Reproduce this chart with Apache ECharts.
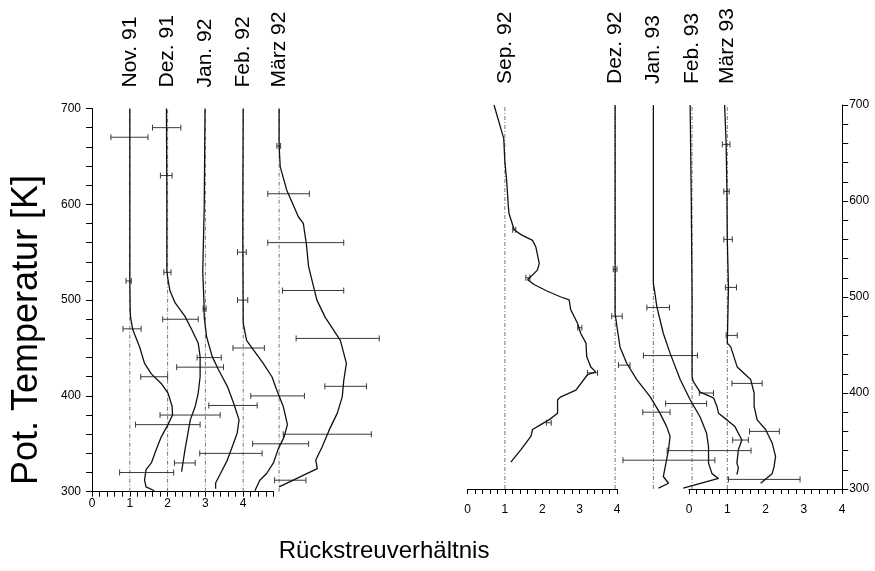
<!DOCTYPE html>
<html><head><meta charset="utf-8">
<script src="https://cdn.jsdelivr.net/npm/echarts@6/dist/echarts.min.js"></script>
<style>html,body{margin:0;padding:0;background:#fff}#c{width:875px;height:571px}</style>
</head><body><div id="c"></div>
<script>
// Profiles: [potential temperature K, backscatter ratio R]
const nov91 = [[700,1.00],[600,1.00],[520,1.00],[490,1.01],[482,1.02],[469,1.08],[451,1.26],[434,1.39],[423,1.57],[413,1.83],[403,2.01],[389,2.12],[380,2.13],[370,2.01],[357,1.83],[344,1.70],[330,1.57],[323,1.43],[312,1.39],[305,1.43],[301,1.65]];
const dez91 = [[700,0.97],[600,0.98],[531,0.98],[524,1.00],[510,1.06],[497,1.20],[483,1.46],[469,1.64],[455,1.81],[441,1.86],[420,1.86],[403,1.81],[389,1.73],[375,1.60],[357,1.52],[344,1.46],[331,1.41],[321,1.37]];
const jan92 = [[700,0.99],[600,0.97],[530,0.93],[500,0.96],[482,0.97],[462,1.03],[441,1.18],[427,1.35],[410,1.58],[392,1.75],[375,1.89],[361,1.84],[347,1.71],[333,1.58],[319,1.40],[309,1.27],[303,1.27]];
const feb92 = [[700,1.00],[600,0.99],[560,0.99],[476,1.00],[458,1.09],[448,1.27],[434,1.53],[420,1.76],[406,1.89],[389,2.06],[370,2.17],[357,2.08],[345,1.93],[330,1.80],[319,1.62],[312,1.44],[301,1.31]];
const mar92 = [[700,1.00],[661,1.00],[639,1.03],[615,1.20],[587,1.51],[580,1.64],[559,1.72],[535,1.78],[500,2.00],[482,2.22],[458,2.62],[434,2.78],[416,2.71],[399,2.67],[382,2.54],[364,2.32],[347,2.14],[333,1.97],[324,2.01],[305,1.00]];
const sep92 = [[700,0.71],[665,0.97],[641,1.00],[620,1.05],[596,1.09],[587,1.11],[570,1.25],[565,1.43],[559,1.74],[552,1.83],[535,1.92],[528,1.87],[518,1.61],[513,1.78],[506,2.14],[500,2.50],[497,2.72],[487,2.76],[473,2.94],[462,3.03],[452,3.17],[438,3.19],[427,3.30],[422,3.43],[419,3.21],[403,2.90],[396,2.50],[393,2.41],[379,2.41],[372,2.18],[367,1.96],[362,1.74],[355,1.70],[341,1.43],[328,1.16]];
const dez92 = [[700,1.00],[600,1.00],[530,1.00],[483,1.00],[469,1.05],[448,1.13],[431,1.31],[414,1.58],[396,1.94],[379,2.20],[365,2.38],[355,2.47],[341,2.43],[323,2.34],[313,2.29],[306,2.43],[301,2.16]];
const jan93 = [[700,1.00],[600,1.00],[514,1.00],[504,1.04],[490,1.09],[462,1.26],[441,1.44],[414,1.70],[393,1.96],[375,2.22],[358,2.39],[344,2.44],[327,2.44],[316,2.53],[311,2.70],[301,1.78]];
const feb93 = [[700,0.95],[600,0.98],[500,1.00],[417,1.00],[412,1.03],[401,1.21],[395,1.56],[386,1.65],[379,1.69],[372,1.91],[365,2.12],[351,2.30],[341,2.21],[327,2.17],[322,2.21],[315,2.17]];
const mar93 = [[700,0.93],[659,0.97],[610,0.99],[560,1.00],[510,1.03],[452,1.00],[448,1.09],[427,1.26],[414,1.61],[400,1.70],[386,1.70],[372,1.78],[362,2.00],[348,2.17],[334,2.26],[323,2.22],[316,2.17],[306,1.87]];

// Error bars: [K, R low, R high]
const nov91Err = [[670,0.50,1.48],[520,0.90,1.04],[470,0.82,1.30],[420,1.29,2.00],[370,1.15,2.86],[320,0.73,2.16]];
const dez91Err = [[680,0.60,1.35],[630,0.81,1.12],[529,0.90,1.09],[480,0.87,1.81],[430,1.24,2.48],[380,0.80,2.39],[330,1.18,1.73]];
const jan92Err = [[491,0.94,1.02],[440,0.78,1.42],[390,1.09,2.37],[340,0.85,2.50]];
const feb92Err = [[550,0.85,1.08],[500,0.85,1.12],[450,0.73,1.56],[400,1.20,2.62],[350,1.25,2.73]];
const mar92Err = [[661,0.94,1.04],[611,0.70,1.80],[560,0.70,2.71],[510,1.09,2.71],[460,1.45,3.65],[410,2.21,3.31],[360,1.11,3.44],[312,0.88,1.71]];
const sep92Err = [[570,1.21,1.29],[520,1.56,1.67],[468,2.95,3.06],[421,3.21,3.48],[369,2.11,2.24]];
const dez92Err = [[529,0.95,1.05],[480,0.91,1.19],[429,1.09,1.40],[380,1.74,2.47],[330,1.21,3.67]];
const jan93Err = [[489,0.83,1.42],[439,0.74,2.15],[389,1.32,2.39],[340,1.36,3.55]];
const feb93Err = [[400,1.19,1.56],[351,2.06,2.47]];
const mar93Err = [[659,0.87,1.07],[610,0.91,1.05],[560,0.91,1.13],[510,0.95,1.24],[460,0.97,1.26],[410,1.12,1.91],[360,1.58,2.36],[310,1.03,2.90]];

const monthLabels = ['Nov. 91','Dez. 91','Jan. 92','Feb. 92','März 92','Sep. 92','Dez. 92','Jan. 93','Feb. 93','März 93'];
const baselines = [1, 2, 3, 4, 4.95, 1, 3.95, -0.93, 0.08, 1.0];
const panelAxis = [3, 3, 3, 3, 3, 4, 4, 5, 5, 5];
const xTickLabels = [0, 1, 2, 3, 4];
const yTickLabels = [300, 400, 500, 600, 700];
const yTitle = 'Pot. Temperatur [K]';
const xTitle = 'Rückstreuverhältnis';

const profileData = [nov91, dez91, jan92, feb92, mar92, sep92, dez92, jan93, feb93, mar93];
const errData = [nov91Err, dez91Err, jan92Err, feb92Err, mar92Err, sep92Err, dez92Err, jan93Err, feb93Err, mar93Err];

const FONT = '"Liberation Sans", Arial, Helvetica, sans-serif';
const xFmt = v => { const r = Math.round(v); return (Math.abs(v - r) < 1e-6 && xTickLabels.includes(r)) ? String(r) : ''; };
const yFmt = v => yTickLabels.includes(Math.round(v)) && Math.abs(v - Math.round(v)) < 1e-6 ? String(Math.round(v)) : '';

function xAxisCfg(gi, max, margin) {
  return {
    type: 'value', gridIndex: gi, min: 0, max: max, interval: 0.2,
    axisLine: { show: true, onZero: false, lineStyle: { color: '#000', width: 1 } },
    axisTick: { show: true, inside: false, length: 5, lineStyle: { color: '#000', width: 1 } },
    axisLabel: { show: true, formatter: xFmt, margin: margin, color: '#000', fontSize: 12, fontFamily: FONT },
    splitLine: { show: false }
  };
}
function yAxisCfg(gi, pos, show, margin) {
  return {
    type: 'value', gridIndex: gi, min: 300, max: 700, interval: 20, position: pos, show: show,
    axisLine: { show: true, onZero: false, lineStyle: { color: '#000', width: 1 } },
    axisTick: { show: true, inside: false, length: 6, lineStyle: { color: '#000', width: 1 } },
    axisLabel: { show: true, formatter: yFmt, margin: margin, color: '#000', fontSize: 12, fontFamily: FONT },
    splitLine: { show: false }
  };
}
function hiddenX(gi, min, max) { return { type: 'value', gridIndex: gi, min: min, max: max, show: false, splitLine: { show: false } }; }
function hiddenY(gi) { return { type: 'value', gridIndex: gi, min: 300, max: 700, show: false, splitLine: { show: false } }; }

const series = [];
profileData.forEach((prof, i) => {
  const b = baselines[i];
  const ai = panelAxis[i];
  series.push({
    type: 'line', xAxisIndex: ai, yAxisIndex: ai, silent: true,
    symbol: 'none', data: [[b, 300], [b, 700]],
    lineStyle: { color: '#777', width: 1, type: [4, 2, 1, 2] }, z: 1
  });
  series.push({
    type: 'line', xAxisIndex: ai, yAxisIndex: ai, silent: true,
    symbol: 'none', data: prof.map(([k, r]) => [b + r - 1, k]),
    lineStyle: { color: '#111', width: 1.3 }, z: 3
  });
  series.push({
    type: 'custom', xAxisIndex: ai, yAxisIndex: ai, silent: true, clip: false, z: 2,
    data: errData[i].map(([k, lo, hi]) => [b + lo - 1, b + hi - 1, k]),
    encode: { x: [0, 1], y: 2 },
    renderItem: (params, api) => {
      const p1 = api.coord([api.value(0), api.value(2)]);
      const p2 = api.coord([api.value(1), api.value(2)]);
      const h = 3;
      const st = { stroke: '#3a3a3a', lineWidth: 1 };
      return { type: 'group', children: [
        { type: 'line', shape: { x1: p1[0], y1: p1[1], x2: p2[0], y2: p2[1] }, style: st },
        { type: 'line', shape: { x1: p1[0], y1: p1[1] - h, x2: p1[0], y2: p1[1] + h }, style: st },
        { type: 'line', shape: { x1: p2[0], y1: p2[1] - h, x2: p2[0], y2: p2[1] + h }, style: st }
      ]};
    }
  });
  series.push({
    type: 'custom', xAxisIndex: ai, yAxisIndex: ai, silent: true, clip: false, z: 5,
    data: [[b, 700]],
    renderItem: (params, api) => {
      const p = api.coord([api.value(0), api.value(1)]);
      return { type: 'text', x: p[0], y: p[1] - 21, rotation: Math.PI / 2,
        style: { text: monthLabels[i], fill: '#000', font: '21px ' + FONT, align: 'left', verticalAlign: 'middle' } };
    }
  });
});

const chart = echarts.init(document.getElementById('c'), null, { renderer: 'canvas' });
chart.setOption({
  animation: false,
  backgroundColor: '#fff',
  grid: [
    { left: 92, top: 108.5, width: 181.4, height: 383.2 },
    { left: 467.5, top: 105, width: 149.5, height: 384 },
    { left: 689, top: 105, width: 153.2, height: 384 },
    { left: 92, top: 108.5, width: 302.4, height: 383.2 },
    { left: 467.5, top: 105, width: 261.6, height: 384 },
    { left: 612.4, top: 105, width: 229.8, height: 384 }
  ],
  xAxis: [ xAxisCfg(0, 4.8, 6), xAxisCfg(1, 4, 15), xAxisCfg(2, 4, 15),
           hiddenX(3, 0, 8), hiddenX(4, 0, 7), hiddenX(5, -2, 4) ],
  yAxis: [ yAxisCfg(0, 'left', true, 11), yAxisCfg(1, 'left', false, 8), yAxisCfg(2, 'right', true, 7),
           hiddenY(3), hiddenY(4), hiddenY(5) ],
  graphic: [
    { type: 'text', x: 27, y: 330, rotation: Math.PI / 2,
      style: { text: yTitle, fill: '#000', font: '36px ' + FONT, align: 'center', verticalAlign: 'middle' } },
    { type: 'text', x: 384, y: 551,
      style: { text: xTitle, fill: '#000', font: '24px ' + FONT, align: 'center', verticalAlign: 'middle' } }
  ],
  series: series
});
</script>
</body></html>
